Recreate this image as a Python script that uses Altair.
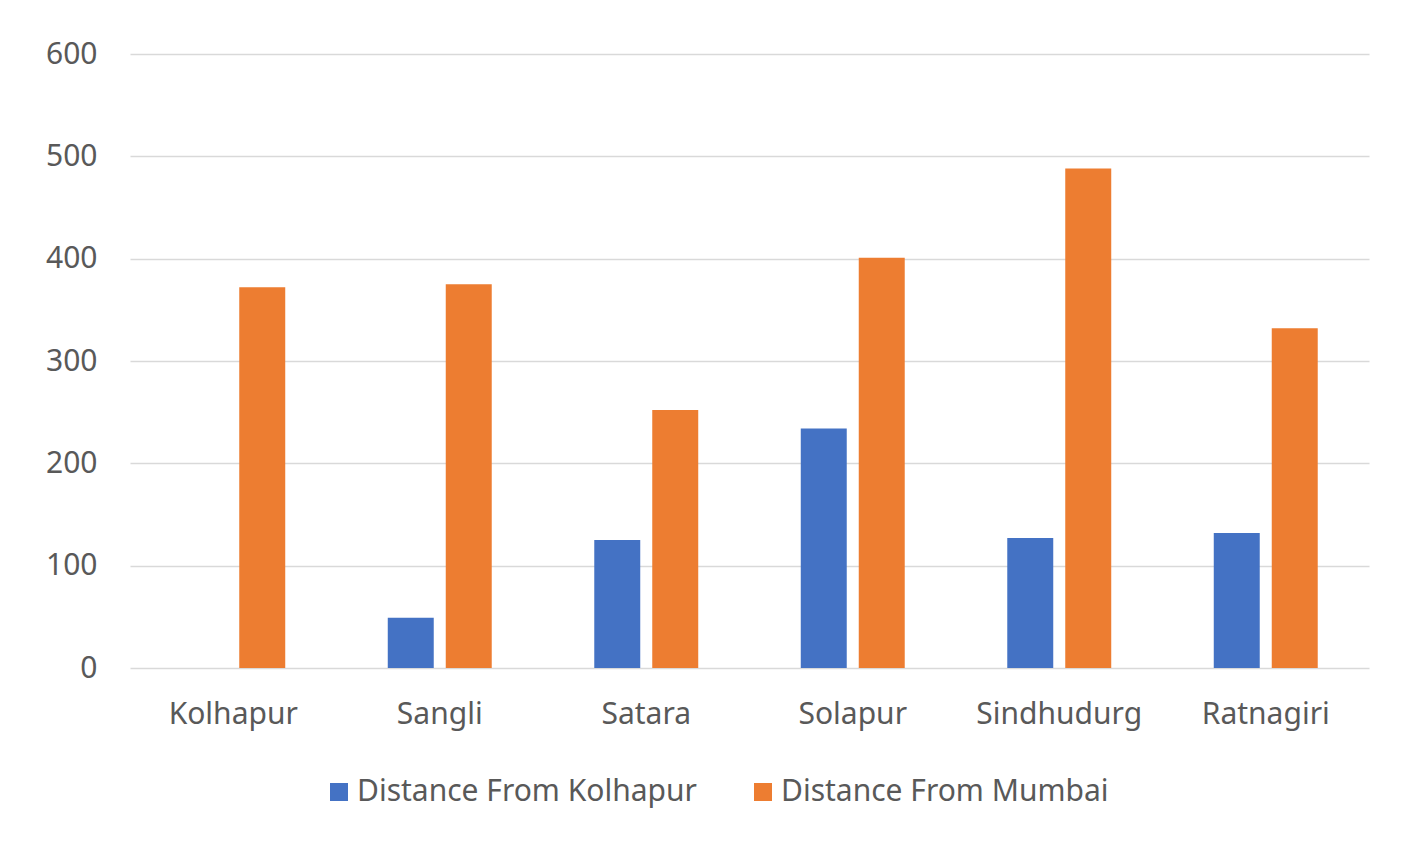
import altair as alt
import pandas as pd

districts = ["Kolhapur", "Sangli", "Satara", "Solapur", "Sindhudurg", "Ratnagiri"]
from_kolhapur = [0, 49, 125, 234, 127, 132]
from_mumbai = [372, 375, 252, 401, 488, 332]
series = ["Distance From Kolhapur", "Distance From Mumbai"]
colors = ["#4472C4", "#ED7D31"]
y_ticks = [0, 100, 200, 300, 400, 500, 600]

rows = []
for d, a, b in zip(districts, from_kolhapur, from_mumbai):
    rows.append({"District": d, "Series": series[0], "Distance": a})
    rows.append({"District": d, "Series": series[1], "Distance": b})
df = pd.DataFrame(rows)

FONT = "Noto Sans"
TXT = "#595959"
FS = 30

bars = alt.Chart(df).mark_bar().encode(
    x=alt.X("District:N", sort=districts, title=None,
            scale=alt.Scale(paddingInner=0, paddingOuter=0),
            axis=alt.Axis(labelAngle=0, ticks=False, domain=False, labelPadding=31,
                          labelFontSize=FS, labelColor=TXT, labelFont=FONT)),
    xOffset=alt.XOffset("Series:N", sort=series,
                        scale=alt.Scale(paddingInner=0.207, paddingOuter=0.884)),
    y=alt.Y("Distance:Q", title=None,
            scale=alt.Scale(domain=[0, 600], nice=False),
            axis=alt.Axis(values=y_ticks, ticks=False, domain=False, labelPadding=33,
                          grid=True, gridColor="#D9D9D9", gridWidth=1.5,
                          labelFontSize=FS, labelColor=TXT, labelFont=FONT)),
    color=alt.Color("Series:N", sort=series,
                    scale=alt.Scale(domain=series, range=colors),
                    legend=alt.Legend(title=None, orient="none", direction="horizontal",
                                      legendX=194, legendY=723,
                                      symbolType="square", symbolSize=324,
                                      symbolStrokeWidth=0, labelOffset=3,
                                      columnPadding=51, labelLimit=0,
                                      labelFontSize=FS, labelColor=TXT, labelFont=FONT)),
)

chart = bars.properties(
    width=1239,
    height=614,
    autosize=alt.AutoSizeParams(type="none"),
    padding={"left": 122, "top": 46, "right": 41, "bottom": 167},
    background="white",
).configure_view(stroke=None)

chart.save("out.html", embed_options={"renderer": "svg", "actions": False})
